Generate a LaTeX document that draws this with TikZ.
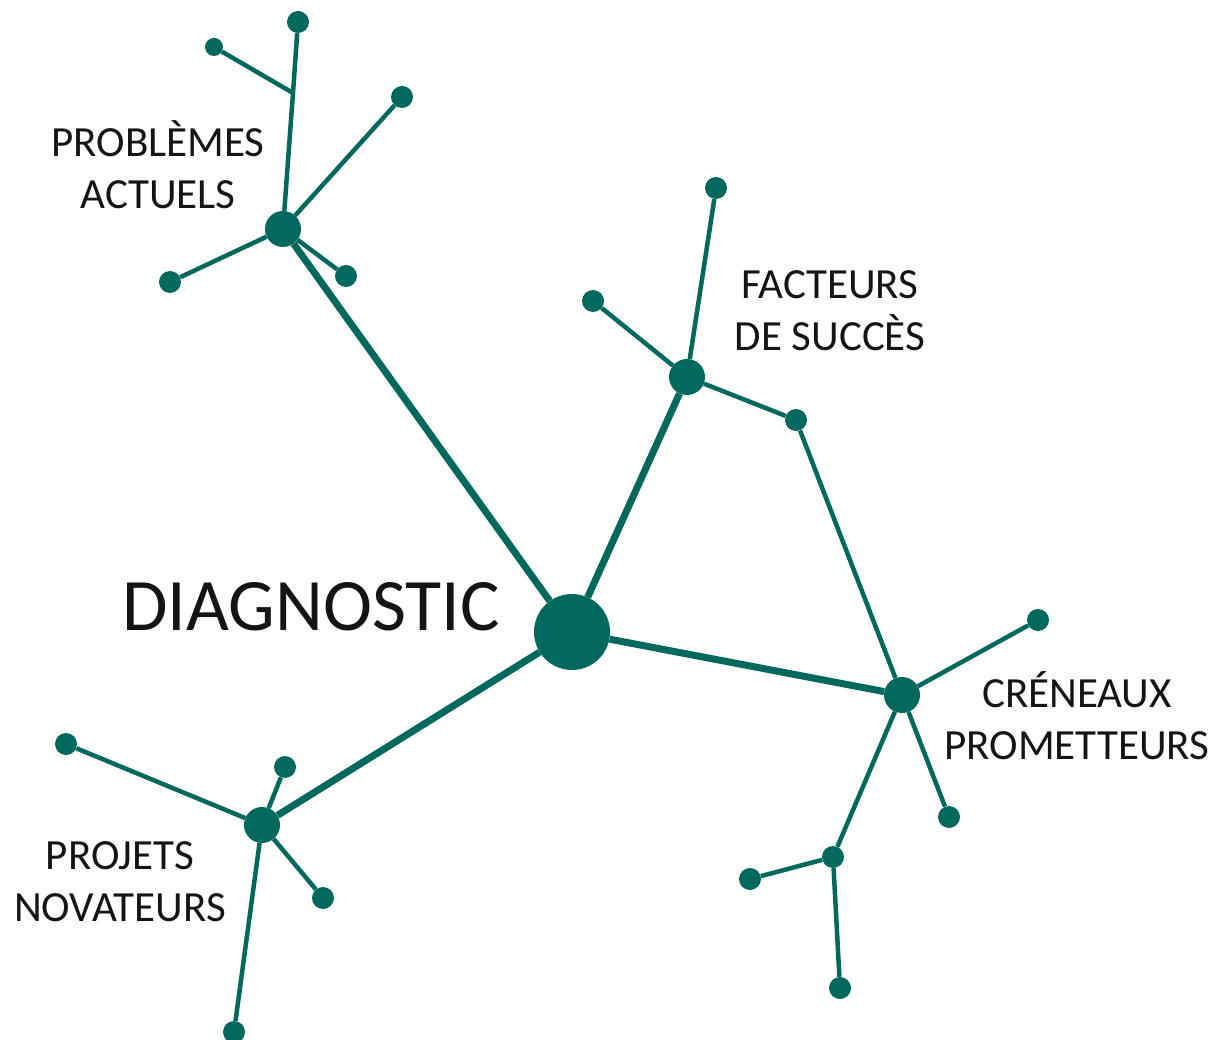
\documentclass[tikz,border=0pt]{standalone}
\usepackage{fontspec}
\setmainfont{Carlito}
\definecolor{teal}{RGB}{0,104,92}
\definecolor{txt}{RGB}{20,20,20}
\begin{document}
\begin{tikzpicture}[x=1pt,y=-1pt,
  dot/.style={circle,fill=teal,inner sep=0pt,minimum size=#1},
  dot/.default=22pt,
  thick line/.style={draw=teal,line width=7pt},
  thin line/.style={draw=teal,line width=4.5pt},
  lab/.style={text=txt,align=center,font=\fontsize{43}{52}\selectfont}]
\useasboundingbox (0,0) rectangle (1216,1040);
% center
\node[dot=76pt] (c) at (572,632) {};
\node[text=txt,font=\fontsize{74}{80}\selectfont] (diag) at (311,607) {DIAGNOSTIC};
% hubs
\node[dot=36pt] (pa) at (283,229) {};
\node[dot=36pt] (fs) at (687,377) {};
\node[dot=36pt] (cp) at (902,695) {};
\node[dot=36pt] (pn) at (262,825) {};
% PA leaves
\coordinate (paj) at (293,93);
\node[dot] (pa1) at (298,22) {};
\node[dot=18pt] (pa2) at (214,47) {};
\node[dot] (pa3) at (402,97) {};
\node[dot] (pa4) at (170,282) {};
\node[dot] (pa5) at (346,276) {};
% FS leaves
\node[dot] (fs1) at (716,188) {};
\node[dot] (fs2) at (593,301) {};
\node[dot] (fs3) at (796,420) {};
% CP leaves
\node[dot] (cp1) at (1038,620) {};
\node[dot] (cp2) at (949,817) {};
\node[dot=22pt] (cp3) at (833,857) {};
\node[dot] (cp4) at (750,879) {};
\node[dot] (cp5) at (840,988) {};
% PN leaves
\node[dot] (pn1) at (66,744) {};
\node[dot] (pn2) at (285,767) {};
\node[dot] (pn3) at (323,898) {};
\node[dot] (pn4) at (234,1032) {};
% spokes
\draw[thick line] (c) -- (pa);
\draw[thick line] (c) -- (fs);
\draw[thick line] (c) -- (cp);
\draw[thick line] (c) -- (pn);
% PA branches
\draw[thin line] (pa) -- (paj) -- (pa1);
\draw[thin line] (paj) -- (pa2);
\draw[thin line] (pa) -- (pa3);
\draw[thin line] (pa) -- (pa4);
\draw[thin line] (pa) -- (pa5);
% FS branches
\draw[thin line] (fs) -- (fs1);
\draw[thin line] (fs) -- (fs2);
\draw[thin line] (fs) -- (fs3);
\draw[thin line] (fs3) -- (cp);
% CP branches
\draw[thin line] (cp) -- (cp1);
\draw[thin line] (cp) -- (cp2);
\draw[thin line] (cp) -- (cp3);
\draw[thin line] (cp3) -- (cp4);
\draw[thin line] (cp3) -- (cp5);
% PN branches
\draw[thin line] (pn) -- (pn1);
\draw[thin line] (pn) -- (pn2);
\draw[thin line] (pn) -- (pn3);
\draw[thin line] (pn) -- (pn4);
% labels
\node[lab] (lpa) at (158,165) {PROBLÈMES\\ACTUELS};
\node[lab] (lfs) at (830,311) {FACTEURS\\DE SUCCÈS};
\node[lab] (lcp) at (1077,716) {CRÉNEAUX\\PROMETTEURS};
\node[lab] (lpn) at (120,882) {PROJETS\\NOVATEURS};
\end{tikzpicture}
\end{document}
